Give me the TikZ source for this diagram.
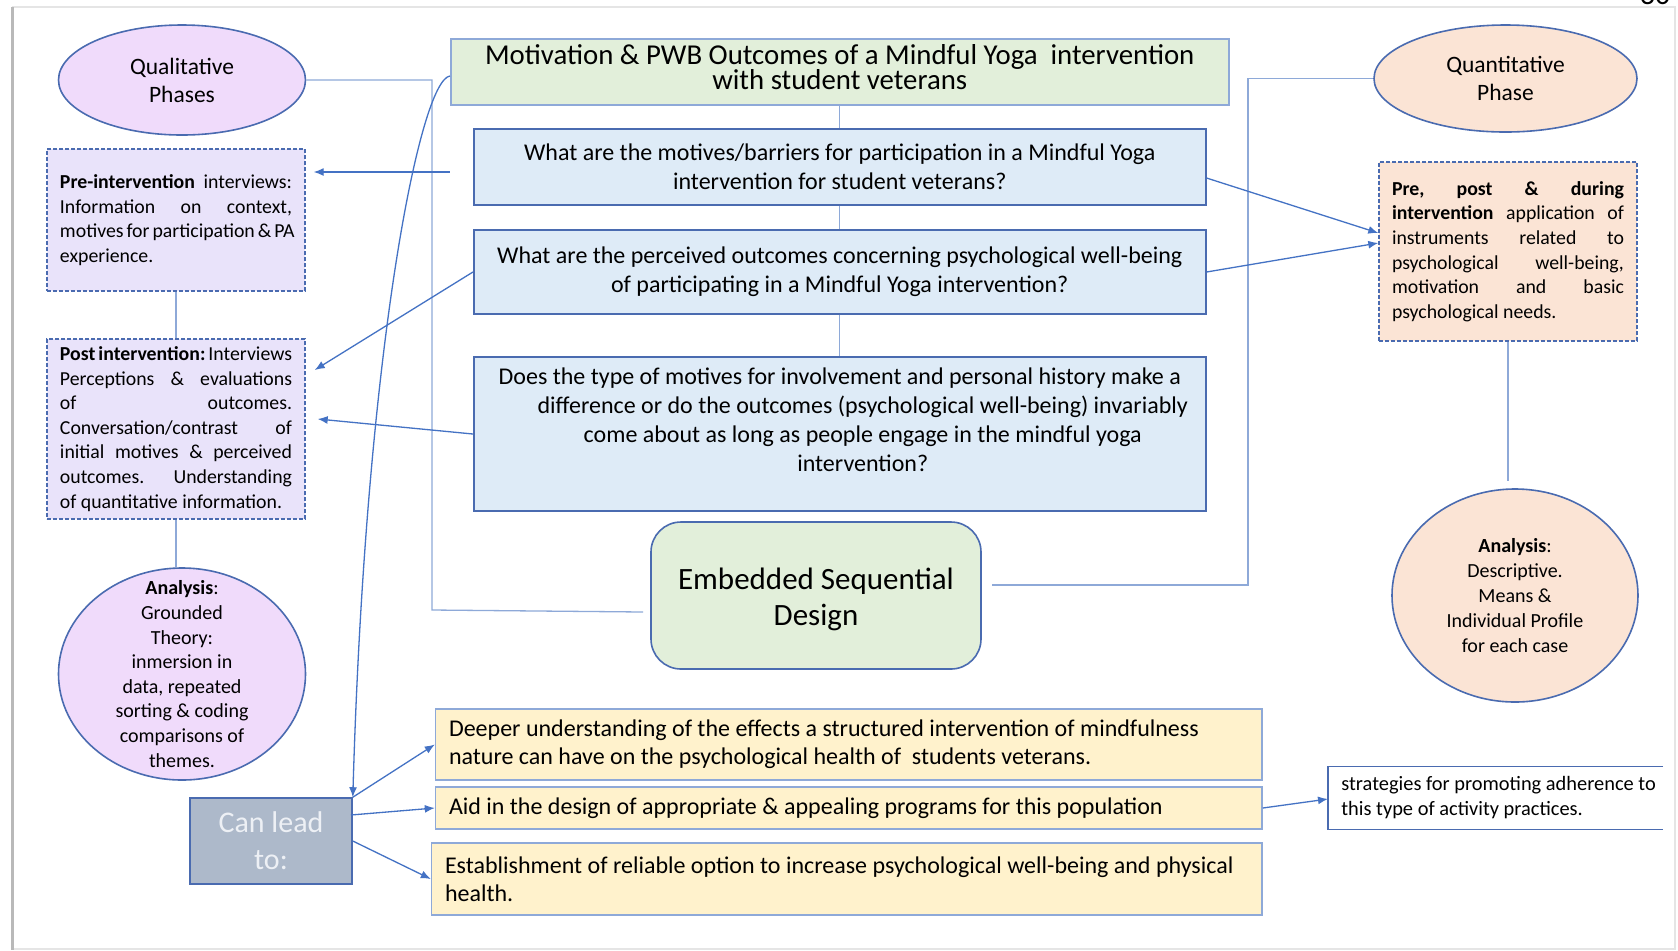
\documentclass[tikz,border=0pt]{standalone}
\usepackage{fontspec}
\setmainfont{Carlito}
\usetikzlibrary{shapes.geometric,arrows.meta}
\definecolor{edgeblue}{HTML}{4A6BB0}
\definecolor{softblue}{HTML}{8EA9D8}
\definecolor{arrowblue}{HTML}{4472C4}
\definecolor{lilac}{HTML}{F0DBFB}
\definecolor{lavender}{HTML}{E9E3FA}
\definecolor{peach}{HTML}{FBE4D5}
\definecolor{sage}{HTML}{E2EFDA}
\definecolor{skyfill}{HTML}{DEEBF7}
\definecolor{cream}{HTML}{FFF2CC}
\definecolor{slate}{HTML}{ADB9CA}
\definecolor{leadtext}{HTML}{EDF0F5}
\newlength{\jw}
\setlength{\jw}{116pt}
\newcommand{\natsp}{\spaceskip=0pt\xspaceskip=0pt\frenchspacing\hyphenpenalty=10000\relax}
\newcommand{\jl}[1]{\makebox[\jw][s]{\natsp #1}}
\newcommand{\tighttitle}{\fontsize{14.4}{12.5}\selectfont\setlength{\lineskiplimit}{-20pt}}
\begin{document}
\begin{tikzpicture}[x=0.5pt,y=-0.5pt,
    phase/.style = {ellipse,draw=edgeblue,line width=0.8pt,inner sep=0pt,align=center,font=\fontsize{11.75}{14}\selectfont},
    note/.style = {rectangle,draw=edgeblue,dash pattern=on 2pt off 1pt,line width=0.7pt,fill=lavender,text width=\jw,inner xsep=6.5pt,inner ysep=2pt,align=left,font=\fontsize{9.9}{12.3}\selectfont},
    ask/.style = {rectangle,draw=edgeblue,line width=0.8pt,fill=skyfill,minimum width=366pt,inner sep=0pt,align=center,font=\fontsize{12}{14.5}\selectfont},
    gain/.style = {rectangle,draw=softblue,line width=0.8pt,fill=cream,inner xsep=6.7pt,inner ysep=0pt,align=left,font=\fontsize{12}{14}\selectfont},
    link/.style = {draw=softblue,line width=0.65pt},
    arr/.style = {draw=arrowblue,line width=0.65pt,-{Latex[length=5pt,width=4pt]}}]
\useasboundingbox (0,0) rectangle (1678,950);
\clip (0,0) rectangle (1678,950);
\fill[white] (0,0) rectangle (1678,950);
% page frame
\draw[gray!20,line width=0.8pt] (12,7) -- (1675,7) -- (1675,949) -- (12,949);
\draw[gray!55,line width=1.5pt] (12,7) -- (12,950);
\node[anchor=base,font=\fontsize{15}{15}\selectfont,inner sep=0pt] (pageno) at (1655,4) {30};

% phases
\node[phase,fill=lilac,minimum width=123.5pt,minimum height=55pt] (qual) at (182,80) {Qualitative\\Phases};
\node[phase,fill=peach,minimum width=131.5pt,minimum height=53.5pt] (quant) at (1505.5,78.5) {Quantitative\\Phase};

% title and questions
\node[rectangle,draw=softblue,line width=0.8pt,fill=sage,minimum width=389pt,minimum height=33pt,inner sep=0pt,align=center,
      font=\tighttitle] (title) at (839.75,72)
      {Motivation \& PWB Outcomes of a Mindful Yoga\ \ intervention\\with student veterans\rule[-5.5pt]{0pt}{0pt}};
\node[ask,minimum height=38pt] (q1) at (839.75,167)
      {What are the motives/barriers for participation in a Mindful Yoga\\intervention for student veterans?};
\node[ask,minimum height=42pt] (q2) at (839.75,272)
      {What are the perceived outcomes concerning psychological well-being\\of participating in a Mindful Yoga intervention?};
\node[ask,minimum height=77pt] (q3) at (839.75,434)
      {Does the type of motives for involvement and personal history make a\\
       \hspace*{23pt}difference or do the outcomes (psychological well-being) invariably\\
       \hspace*{23pt}come about as long as people engage in the mindful yoga\\
       \hspace*{23pt}intervention?\rule[-14.5pt]{0pt}{0pt}};

% qualitative side
\node[note,minimum height=71pt] (pre) at (176,220)
      {\natsp\jl{\textbf{Pre-intervention} interviews:}\\
       \jl{Information on context,}\\
       \jl{motives for participation \& PA}\\
       experience.};
\node[note,minimum height=90pt] (post) at (176,429)
      {\natsp\jl{\textbf{Post intervention:} Interviews}\\
       \jl{Perceptions \& evaluations}\\
       \jl{of outcomes.}\\
       \jl{Conversation/contrast of}\\
       \jl{initial motives \& perceived}\\
       \jl{outcomes. Understanding}\\
       of quantitative information.};
\node[phase,fill=lilac,minimum width=123.5pt,minimum height=106pt,inner ysep=-11pt,font=\fontsize{10}{12.3}\selectfont] (anaL) at (182,674)
      {\textbf{Analysis}:\\Grounded\\Theory:\\inmersion in\\data, repeated\\sorting \& coding\\comparisons of\\themes.};

% quantitative side
\node[note,fill=peach,minimum height=89.5pt] (prq) at (1508,251.5)
      {\natsp\jl{\textbf{Pre, post \& during}}\\
       \jl{\textbf{intervention} application of}\\
       \jl{instruments related to}\\
       \jl{psychological well-being,}\\
       \jl{motivation and basic}\\
       psychological needs.};
\node[phase,fill=peach,minimum width=123pt,minimum height=106.5pt,font=\fontsize{10}{12.4}\selectfont] (anaR) at (1515,595.5)
      {\textbf{Analysis}:\\Descriptive.\\Means \&\\Individual Profile\\for each case};

% design
\node[rectangle,rounded corners=15pt,draw=edgeblue,line width=0.8pt,fill=sage,minimum width=165pt,minimum height=73.5pt,align=center,
      font=\fontsize{15.5}{18}\selectfont] (esd) at (816,595.5) {\rule{0pt}{15pt}Embedded Sequential\\Design};

% results
\node[rectangle,draw=edgeblue,line width=0.8pt,fill=slate,text=leadtext,minimum width=81pt,minimum height=43pt,inner sep=0pt,align=center,
      font=\fontsize{15}{18.5}\selectfont] (lead) at (271,841) {Can lead\\to:};
\node[gain,text width=399.8pt,minimum height=35.5pt] (deeper) at (848.8,744.5)
      {\natsp Deeper understanding of the effects a structured intervention of mindfulness\\nature can have on the psychological health of\ \ students veterans.};
\node[gain,text width=399.8pt,minimum height=21pt] (aid) at (848.8,808)
      {\natsp Aid in the design of appropriate \& appealing programs for this population};
\node[gain,text width=401.8pt,minimum height=36pt] (estab) at (846.8,879)
      {\natsp Establishment of reliable option to increase psychological well-being and physical\\health.};
\node[anchor=west,text width=161pt,inner xsep=6.5pt,minimum height=31pt,align=left,font=\fontsize{10.2}{12.5}\selectfont] (strat) at (1328,798)
      {\natsp strategies for promoting adherence to\\this type of activity practices.};
\draw[edgeblue,line width=0.7pt] ([shift={(335,0)}]strat.north west) -- (strat.north west) -- (strat.south west) -- ([shift={(335,0)}]strat.south west);

% connectors
\coordinate (qbend) at (432,610);
\coordinate (rbend) at (1248,585);
\draw[link] (qual.east) -| (qbend) -- ([shift={(-7,16.5)}]esd.west);
\draw[link] (quant.west) -| (rbend) -- ([shift={(10,-10.5)}]esd.east);
\draw[link] (title.south) -- (q1.north);
\draw[link] (q1.south) -- (q2.north);
\draw[link] (q2.south) -- (q3.north);
\draw[link] (pre.south) -- (post.north);
\draw[link] (post.south) -- (post.south |- anaL.north);
\draw[link,shorten >=3.5pt] (prq.south) -- (prq.south |- anaR.north);

% arrows
\draw[arr] ([shift={(-23,5)}]q1.west) -- ([shift={(8,-48)}]pre.east);
\draw[arr] (q2.west) -- ([shift={(9,-59)}]post.east);
\draw[arr] (q3.west) -- ([shift={(12,-10)}]post.east);
\draw[arr] ([shift={(0,11)}]q1.east) -- ([shift={(0,-18.5)}]prq.west);
\draw[arr] (q2.east) -- ([shift={(0,-8.5)}]prq.west);
\draw[arr] ([shift={(0,4)}]title.west) .. controls +(-30,4) and +(13,-448) .. (lead.north east);
\draw[arr] (lead.north east) -- (deeper.west);
\draw[arr] ([shift={(-2,-26)}]lead.east) -- (aid.west);
\draw[arr] (lead.east) -- (estab.west);
\draw[arr] (aid.east) -- ([shift={(0,1)}]strat.west);
\end{tikzpicture}
\end{document}
